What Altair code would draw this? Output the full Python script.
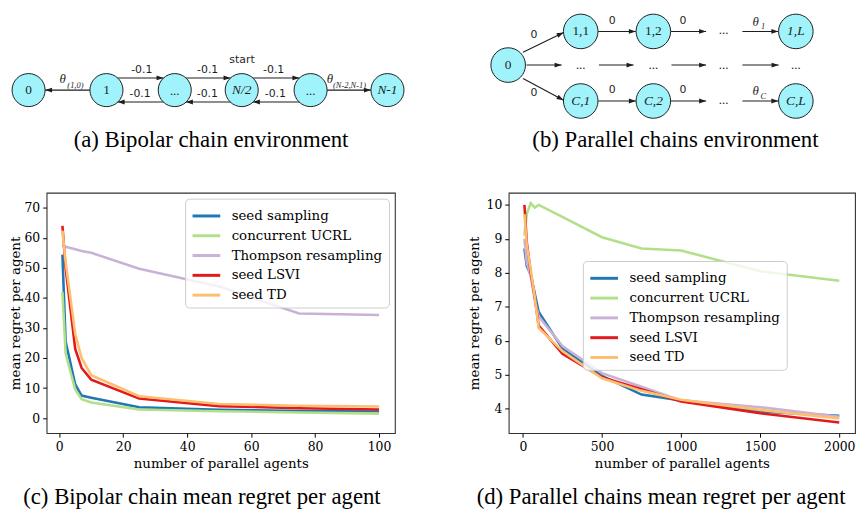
import math
import altair as alt
import pandas as pd

# ---------------- chart values ----------------
SERIES = ["seed sampling", "concurrent UCRL", "Thompson resampling", "seed LSVI", "seed TD"]
COLORS = ["#1f78b4", "#b2df8a", "#cab2d6", "#e31a1c", "#fdbf6f"]

# (c) Bipolar chain
c_agents = [1, 2, 5, 7, 10, 25, 50, 75, 100]
c_seed_sampling = [54.4, 25.5, 11.2, 7.5, 6.8, 3.6, 2.8, 2.4, 2.2]
c_concurrent_ucrl = [42.0, 21.5, 9.5, 6.3, 5.2, 2.9, 2.3, 1.9, 1.5]
c_thompson = [57.6, 57.0, 56.2, 55.6, 55.0, 49.7, 43.8, 34.8, 34.3]
c_seed_lsvi = [64.0, 50.0, 23.0, 16.7, 12.8, 6.5, 4.0, 3.3, 2.9]
c_seed_td = [62.4, 52.0, 28.0, 20.0, 14.3, 7.3, 4.7, 4.1, 3.9]
c_xticks = [0, 20, 40, 60, 80, 100]
c_yticks = [0, 10, 20, 30, 40, 50, 60, 70]

# (d) Parallel chains
d_agents = [10, 25, 50, 75, 100, 250, 500, 750, 1000, 1500, 2000]
d_seed_sampling = [8.72, 8.2, 7.95, 7.4, 6.85, 5.78, 4.97, 4.42, 4.25, 3.92, 3.8]
d_concurrent_ucrl = [9.1, 9.75, 10.05, 9.92, 10.0, 9.65, 9.05, 8.72, 8.66, 8.05, 7.77]
d_thompson = [9.0, 8.3, 7.9, 7.2, 6.72, 5.85, 5.05, 4.65, 4.25, 4.05, 3.77]
d_seed_lsvi = [10.0, 8.9, 8.0, 7.3, 6.45, 5.62, 4.93, 4.58, 4.22, 3.87, 3.6]
d_seed_td = [9.73, 8.8, 8.1, 7.3, 6.38, 5.7, 4.9, 4.53, 4.27, 3.97, 3.72]
d_xticks = [0, 500, 1000, 1500, 2000]
d_yticks = [4, 5, 6, 7, 8, 9, 10]

captions = [
    "(a) Bipolar chain environment",
    "(b) Parallel chains environment",
    "(c) Bipolar chain mean regret per agent",
    "(d) Parallel chains mean regret per agent",
]

# ---------------- diagram layout (page pixel units) ----------------
node_x = [27.3, 106, 175, 242.7, 312.3, 390,
          512, 585.3, 658.7, 802.7, 585.3, 658.7, 802.7]
node_y = [83.3, 83.3, 83.3, 83.3, 83.3, 83.3,
          58, 24, 24, 24, 94.3, 94.3, 94.3]
node_size = [1115] * 6 + [1220] * 7
node_label = ["0", "1", "", "N/2", "", "N-1",
              "0", "1,1", "1,2", "1,L", "C,1", "C,2", "C,L"]

edge_x1 = [89.3, 117.3, 186.3, 254, 163.7, 231.4, 301, 329,
           527, 527, 530.5, 603.7, 677, 748.7, 603, 676.4, 748.7, 603, 676.4, 748.7]
edge_y1 = [83.3, 71, 71, 71, 95.3, 95.3, 95.3, 83.3,
           45, 71.5, 58, 58, 58, 58, 24, 24, 24, 94.3, 94.3, 94.3]
edge_x2 = [44, 163.7, 231.4, 301, 117.3, 186.3, 254, 373.3,
           568, 568, 566, 638.7, 712, 785.3, 641, 712, 785, 641, 712, 785]
edge_y2 = [83.3, 71, 71, 71, 95.3, 95.3, 95.3, 83.3,
           25, 93.5, 58, 58, 58, 58, 24, 24, 24, 94.3, 94.3, 94.3]

elabel_t = ["-0.1", "-0.1", "-0.1", "-0.1", "-0.1", "-0.1", "start",
            "0", "0", "0", "0", "0", "0"]
elabel_x = [141.7, 208.3, 275, 140, 208, 276.7, 243,
            538, 538, 617, 688.7, 617, 688.7]
elabel_y = [62.7, 62.7, 62.7, 87.7, 87.7, 87.7, 53.3,
            28, 86.7, 13.5, 13.5, 83.3, 83.3]

dots_x = [175, 312.3, 729.7, 729.7, 585.3, 658.7, 729.7, 802.7]
dots_y = [88.3, 88.3, 27, 97.3, 61.5, 61.5, 61.5, 61.5]

theta_x = [61.7, 331.7, 762, 762]
theta_y = [71.7, 71.7, 14.5, 84.5]
sub_t = ["(1,0)", "(N-2,N-1)", "1", "C"]
sub_x = [66.5, 335, 767.5, 767]
sub_y = [78.3, 78.3, 18.5, 89]

cap_x = [211.7, 681]
cap_y = [134, 134]

# ---------------- diagram chart ----------------
X0 = 45.5   # page x of the plot origin shared with panel (c)
DX = alt.X("x:Q", scale=alt.Scale(domain=[X0, X0 + 810], nice=False, zero=False), axis=None)
DY = alt.Y("y:Q", scale=alt.Scale(domain=[7, 147], nice=False, zero=False, reverse=True), axis=None)

edges = pd.DataFrame({"x": edge_x1, "y": edge_y1, "x2": edge_x2, "y2": edge_y2})
edges["angle"] = [
    (math.degrees(math.atan2(b - a, -(d - c))) + 360) % 360
    for a, b, c, d in zip(edge_x1, edge_x2, edge_y1, edge_y2)
]
heads = pd.DataFrame({"x": edge_x2, "y": edge_y2, "angle": edges["angle"]})

nodes = pd.DataFrame({"x": node_x, "y": node_y, "s": node_size, "t": node_label})
italic_mask = nodes["t"].str.contains("N|L|C")

ink = "#1e1e1e"

edge_layer = alt.Chart(edges).mark_rule(color=ink, strokeWidth=1.1).encode(
    x=DX, y=DY, x2="x2:Q", y2="y2:Q")
head_layer = alt.Chart(heads).mark_point(
    shape="M0,0L-0.4,1.15L0.4,1.15Z", filled=True, color=ink, opacity=1, size=150
).encode(x=DX, y=DY, angle=alt.Angle("angle:Q", scale=None))
node_layer = alt.Chart(nodes).mark_point(
    shape="circle", fill="#a0f3fb", stroke=ink, strokeWidth=1, opacity=1, fillOpacity=1
).encode(x=DX, y=DY, size=alt.Size("s:Q", scale=None))


def txt(df, **kw):
    return alt.Chart(df).mark_text(**kw).encode(x=DX, y=DY, text="t:N")


node_txt = txt(nodes[(nodes["t"] != "") & ~italic_mask], font="Liberation Serif",
               fontSize=13.5, color=ink, baseline="middle")
node_txt_it = txt(nodes[italic_mask], font="Liberation Serif", fontStyle="italic",
                  fontSize=13.5, color=ink, baseline="middle")
elabel_txt = txt(pd.DataFrame({"x": elabel_x, "y": elabel_y, "t": elabel_t}),
                 font="DejaVu Sans", fontSize=11, color=ink, baseline="middle")
dots_txt = txt(pd.DataFrame({"x": dots_x, "y": dots_y, "t": ["..."] * len(dots_x)}),
               font="Liberation Serif", fontSize=13, color=ink, baseline="alphabetic")
theta_txt = txt(pd.DataFrame({"x": theta_x, "y": theta_y, "t": ["θ"] * 4}),
                font="Liberation Serif", fontStyle="italic", fontSize=13, color=ink,
                baseline="middle")
sub_txt = txt(pd.DataFrame({"x": sub_x, "y": sub_y, "t": sub_t}),
              font="Liberation Serif", fontStyle="italic", fontSize=8.5, color=ink,
              baseline="middle", align="left")
cap_txt = txt(pd.DataFrame({"x": cap_x, "y": cap_y, "t": captions[:2]}),
              font="Liberation Serif", fontSize=23, color="#000", baseline="middle")

diagram = alt.layer(
    edge_layer, head_layer, node_layer, node_txt, node_txt_it, elabel_txt,
    dots_txt, theta_txt, sub_txt, cap_txt
).properties(width=810, height=140, view=alt.ViewBackground(stroke="transparent"))

# ---------------- regret charts ----------------
FONT = "DejaVu Serif"


def regret_panel(agents, values, xdom, ydom, xticks, yticks, legend, caption,
                 y_extent, y_title_pad, width):
    layers = []
    for name, vals in zip(SERIES, values):
        df = pd.DataFrame({"agents": agents, "regret": vals, "series": name})
        layers.append(
            alt.Chart(df).mark_line(strokeWidth=2.6, clip=True).encode(
                x=alt.X("agents:Q",
                        scale=alt.Scale(domain=xdom, nice=False, zero=False),
                        axis=alt.Axis(values=xticks, title="number of parallel agents",
                                      format="d", grid=False, domain=False,
                                      tickSize=4, tickColor="#000", labelPadding=4,
                                      labelFont=FONT, labelFontSize=12.5, labelColor="#000",
                                      titleFont=FONT, titleFontSize=13.5,
                                      titleFontWeight="normal", titleColor="#000",
                                      titlePadding=3, labelFlush=False)),
                y=alt.Y("regret:Q",
                        scale=alt.Scale(domain=ydom, nice=False, zero=False),
                        axis=alt.Axis(values=yticks, title="mean regret per agent",
                                      format="d", grid=False, domain=False,
                                      tickSize=4, tickColor="#000", labelPadding=3,
                                      labelFont=FONT, labelFontSize=12.5, labelColor="#000",
                                      titleFont=FONT, titleFontSize=13.5,
                                      titleFontWeight="normal", titleColor="#000",
                                      minExtent=y_extent, maxExtent=y_extent,
                                      titlePadding=y_title_pad, labelFlush=False)),
                color=alt.Color("series:N",
                                scale=alt.Scale(domain=SERIES, range=COLORS),
                                legend=legend),
            )
        )
    return alt.layer(*layers).properties(
        width=width, height=243,
        title=alt.TitleParams(text=caption, orient="bottom", anchor="middle",
                              frame="bounds", font="Liberation Serif", fontSize=23,
                              fontWeight="normal", color="#000", offset=17),
    )


def make_legend(**pos):
    return alt.Legend(title=None, symbolType="M-1.4,0L1.4,0", symbolSize=400,
                      symbolStrokeWidth=3, symbolOffset=4,
                      labelFont=FONT, labelFontSize=13.5,
                      labelColor="#000", fillColor="rgba(255,255,255,0.8)",
                      strokeColor="#cccccc", cornerRadius=4, padding=6,
                      rowPadding=2, labelOffset=14, **pos)


chart_c = regret_panel(
    c_agents,
    [c_seed_sampling, c_concurrent_ucrl, c_thompson, c_seed_lsvi, c_seed_td],
    [-3.95, 104.95], [-5, 75], c_xticks, c_yticks,
    make_legend(orient="top-right", offset=6), captions[2], 23, 1, 352)

chart_d = regret_panel(
    d_agents,
    [d_seed_sampling, d_concurrent_ucrl, d_thompson, d_seed_lsvi, d_seed_td],
    [-89.5, 2099.5], [3.285, 10.36], d_xticks, d_yticks,
    make_legend(orient="none", legendX=75, legendY=69), captions[3], 24, 4, 350)

bottom = alt.hconcat(chart_c, chart_d, spacing=71).resolve_scale(
    color="independent").resolve_legend(color="independent")

chart = alt.vconcat(diagram, bottom, spacing=38).properties(
    padding={"left": 0, "top": 0, "right": 0, "bottom": 0}
).configure_view(stroke="#333333", strokeWidth=1.1)

chart.save("out.html", embed_options={"renderer": "svg", "actions": False})
